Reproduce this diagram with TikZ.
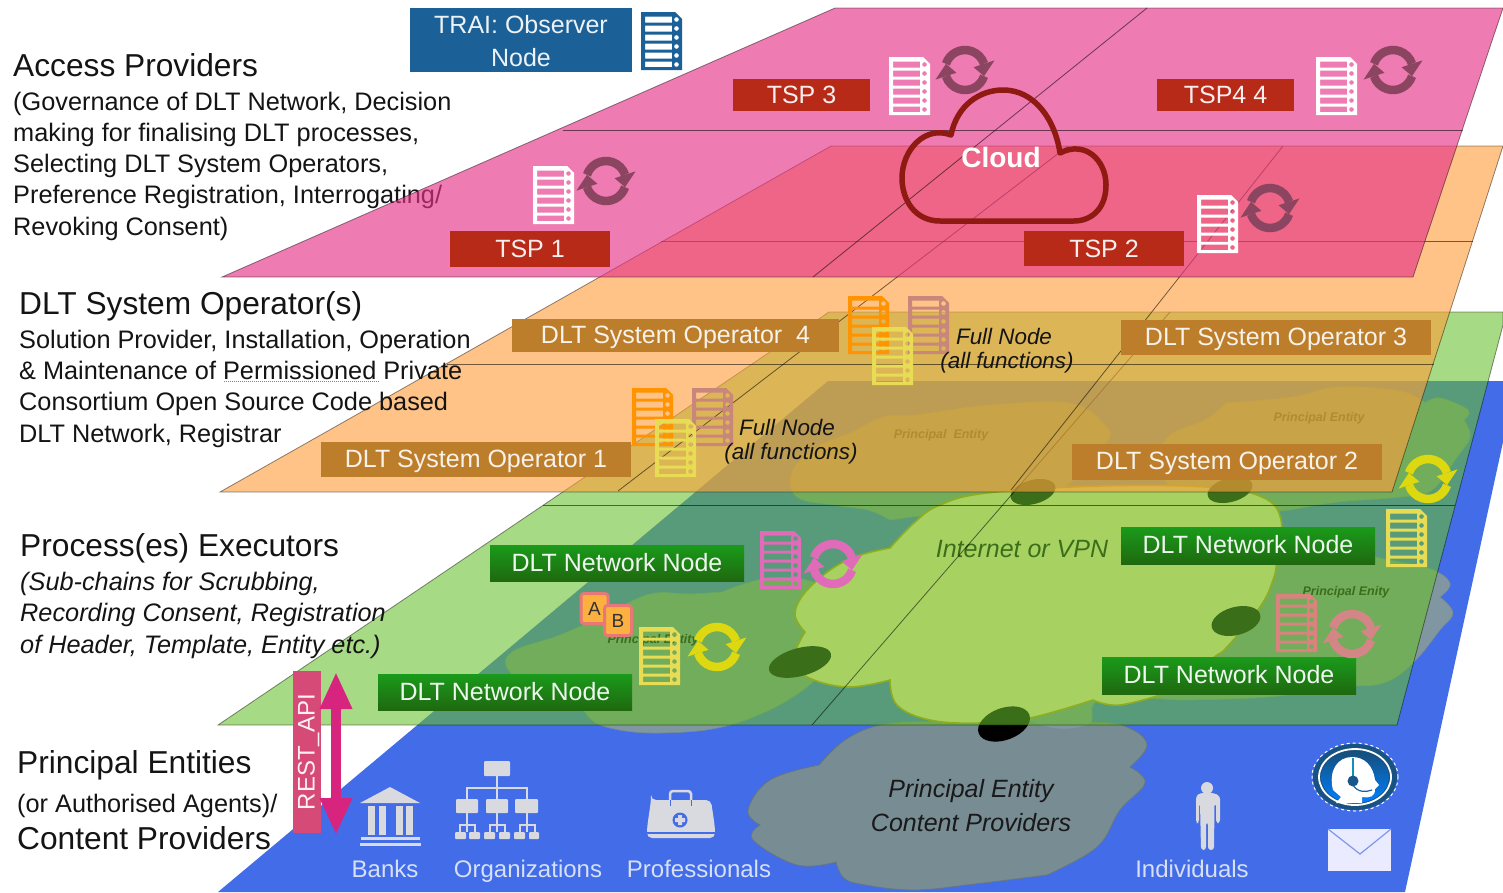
\documentclass[tikz,border=0pt]{standalone}
\usepackage{fontspec}
\setmainfont{Liberation Sans}
\usetikzlibrary{arrows.meta,calc}
\definecolor{bluep}{RGB}{66,108,232}
\definecolor{greenp}{RGB}{104,191,43}
\definecolor{orangep}{RGB}{255,158,60}
\definecolor{pinkp}{RGB}{229,50,135}
\definecolor{tspred}{RGB}{184,42,24}
\definecolor{opbrown}{RGB}{189,126,43}
\definecolor{traiblue}{RGB}{27,97,152}
\definecolor{grcloud}{RGB}{120,140,148}
\definecolor{grcloudb}{RGB}{128,150,160}
\definecolor{creamc}{RGB}{255,236,175}
\definecolor{goldc}{RGB}{196,150,15}
\definecolor{icong}{RGB}{217,218,224}
\definecolor{labelw}{RGB}{214,224,246}
\definecolor{mauve}{RGB}{140,69,96}
\definecolor{cyyellow}{RGB}{221,216,16}
\definecolor{cypink}{RGB}{224,107,184}
\definecolor{cysalmon}{RGB}{212,133,133}
\definecolor{docorange}{RGB}{255,147,0}
\definecolor{docbrown}{RGB}{201,135,124}
\definecolor{docyellow}{RGB}{232,220,85}
\definecolor{docsalmon}{RGB}{218,130,125}
\definecolor{cloudred}{RGB}{142,26,18}
\definecolor{restred}{RGB}{214,74,120}
\definecolor{restmag}{RGB}{214,36,127}
\definecolor{nodetop}{RGB}{26,154,26}
\definecolor{nodebot}{RGB}{31,104,15}
\definecolor{abfill}{RGB}{251,176,64}
\definecolor{abedge}{RGB}{232,120,120}
\newcommand\fs[1]{\fontsize{#1}{#1}\selectfont}
% document icon: x y colour
\newcommand\docicon[3]{%
 \fill[#3,even odd rule,shift={(#1,#2)}]
  (0,0) -- (34,0) -- (41,7) -- (41,58) -- (0,58) -- cycle
  (4,4.5) rectangle (31,10.5) (4,13.5) rectangle (31,19.5) (4,22.5) rectangle (31,28.5)
  (4,31.5) rectangle (31,37.5) (4,40.5) rectangle (31,46.5) (4,49.5) rectangle (31,55)
  (35.5,7.5) circle (2.4pt) (35.5,16.5) circle (2.4pt) (35.5,25.5) circle (2.4pt)
  (35.5,34.5) circle (2.4pt) (35.5,43.5) circle (2.4pt) (35.5,52.5) circle (2.4pt);}
% cycle icon: x y colour
\newcommand\cycleicon[3]{%
 \foreach \r in {0,180}{%
  \draw[#3,line width=8.5pt] (#1,#2) ++(162+\r:20pt) arc[start angle=162+\r,end angle=18+\r,radius=20pt];
  \fill[#3] (#1,#2) ++(18+\r:9pt) -- ++(18+\r:22pt) -- ($(#1,#2)+(-18+\r:20pt)$) -- cycle;}}
\tikzset{
 x=1pt,y=-1pt,
 title/.style={anchor=base west,inner sep=0pt,font=\fs{31.7},text=black!92},
 body/.style={anchor=base west,inner sep=0pt,font=\fs{25.3},text=black!92},
 bodyi/.style={anchor=base west,inner sep=0pt,font=\fs{25.3}\itshape,text=black!92},
 tsp/.style={fill=tspred,text=white!92!tspred,inner sep=0pt,font=\fs{25},text height=17pt,text depth=0pt},
 dltop/.style={fill=opbrown,text=white!90!opbrown,inner sep=0pt,font=\fs{25},text height=16pt,text depth=0pt},
 netnode/.style={top color=nodetop,bottom color=nodebot,text=white!92!nodetop,inner sep=0pt,
   font=\fs{25},minimum width=254pt,minimum height=36.5pt,text height=15pt,text depth=0pt},
 plane/.style={draw=black,draw opacity=.45,line width=.8pt},
 gridl/.style={draw=black,draw opacity=.55,line width=.8pt},
 grayc/.style={fill=grcloud,draw=grcloud!85!black,line width=.8pt},
 graycb/.style={fill=grcloudb,draw=grcloudb!92!black,line width=.6pt},
 smalltag/.style={font=\fs{12.5}\bfseries\itshape,text=black,inner sep=0pt},
 ctxt/.style={font=\fs{25}\itshape,text=black!90,inner sep=0pt},
 ftxt/.style={font=\fs{22.4}\itshape,text=black!92,inner sep=0pt},
 iconlbl/.style={anchor=base,font=\fs{24},text=labelw,inner sep=0pt},
 abbox/.style={fill=abfill,draw=abedge,line width=3pt,rounded corners=3pt,
   font=\fs{19},text=black!80,inner sep=0pt,minimum width=27pt,minimum height=30pt},
}
\begin{document}
\begin{tikzpicture}
\useasboundingbox (0,0) rectangle (1503,892);
\clip (0,0) rectangle (1503,892);
\fill[white] (0,0) rectangle (1503,892);
% ----- access providers text lies beneath the pink plane
\node[title] (t1) at (13,76) {Access Providers};
\node[body] (t1a) at (13,110) {(Governance of DLT Network, Decision};
\node[body] (t1b) at (13,141) {making for finalising DLT processes,};
\node[body] (t1c) at (13,172) {Selecting DLT System Operators,};
\node[body] (t1d) at (13,203) {Preference Registration, Interrogating/};
\node[body] (t1e) at (13,235) {Revoking Consent)};
\node[title] (t4) at (17,773) {Principal Entities};
\node[body] (t4a) at (17,812) {(or Authorised Agents)/};
\node[title] (t4b) at (17,849) {Content Providers};
% ----- blue plane
\fill[bluep] (218,892) -- (828,381) -- (1503,381) -- (1503,442) -- (1405,892) -- cycle;
% ----- grey clouds on the blue plane
% bottom cloud
\path[grayc] plot[smooth,tension=.65] coordinates {(819,765) (845,740) (880,725) (930,721) (1000,722) (1090,722) (1127,727) (1147,745) (1130,767)}
  -- plot[smooth,tension=.65] coordinates {(1130,767) (1145,783) (1120,810) (1097,847) (1047,875)}
  -- plot[smooth,tension=.65] coordinates {(1047,875) (975,884) (913,890) (860,884) (843,877) (836,862)}
  -- plot[smooth,tension=.65] coordinates {(836,862) (797,865) (753,840) (760,825)}
  -- plot[smooth,tension=.65] coordinates {(760,825) (748,810) (770,780) (819,765)} -- cycle;
% left-middle cloud
\path[graycb] plot[smooth,tension=.65] coordinates {(612,612) (560,635) (512,652) (510,672) (545,695) (582,705)}
  -- plot[smooth,tension=.65] coordinates {(582,705) (600,725) (660,733) (740,722) (815,680) (850,620) (820,585) (770,578) (722,592)}
  -- plot[smooth,tension=.65] coordinates {(722,592) (690,594) (650,594) (612,612)} -- cycle;
% upper-left cloud
\path[graycb] plot[smooth,tension=.65] coordinates {(950,410) (915,415) (883,417) (850,433) (817,447) (792,472) (797,497) (833,505) (868,510) (890,520)}
  -- plot[smooth,tension=.65] coordinates {(890,520) (930,515) (1000,510) (1060,490) (1105,445) (1105,425) (1069,403) (993,405) (950,410)} -- cycle;
% upper-right cloud
\path[graycb] plot[smooth,tension=.65] coordinates {(1226,403) (1205,420) (1168,437) (1160,470) (1200,510) (1290,510)}
  -- plot[smooth,tension=.65] coordinates {(1290,510) (1338,502) (1400,497) (1432,490) (1457,457) (1470,437) (1464,420)}
  -- plot[smooth,tension=.65] coordinates {(1464,420) (1468,410) (1440,398) (1425,403)}
  -- plot[smooth,tension=.65] coordinates {(1425,403) (1400,391) (1338,387) (1293,397) (1226,403)} -- cycle;
% lower-right cloud
\path[graycb] plot[smooth,tension=.65] coordinates {(1278,530) (1376,557) (1428,568) (1450,583) (1440,597)}
  -- plot[smooth,tension=.65] coordinates {(1440,597) (1453,613) (1440,630) (1413,663) (1383,683) (1340,687) (1267,697) (1180,700)}
  -- plot[smooth,tension=.65] coordinates {(1180,700) (1100,700) (1088,725) (1040,725) (1000,690) (1100,600) (1278,530)} -- cycle;
% small labels on the clouds
\node[smalltag] (pe1) at (941,435) {Principal\ \ Entity};
\node[smalltag] (pe2) at (1319,418) {Principal Entity};
\node[smalltag] (pe3) at (1346,592) {Principal Enity};
\node[smalltag] (pe4) at (653,640) {Principal Entity};
% cream (internet) cloud
\path[fill=creamc,draw=goldc,line width=1.6pt] plot[smooth,tension=.65] coordinates {(890,548) (915,522) (940,505) (987,493) (1100,486) (1207,487) (1262,497) (1281,520) (1277,560) (1273,580) (1260,607) (1227,647) (1213,658) (1170,692)}
  -- plot[smooth,tension=.65] coordinates {(1170,692) (1120,705) (1093,700)}
  -- plot[smooth,tension=.65] coordinates {(1093,700) (1030,718) (980,723) (930,720) (897,705) (890,680)}
  -- plot[smooth,tension=.65] coordinates {(890,680) (847,687) (807,677) (793,660) (805,632)}
  -- plot[smooth,tension=.65] coordinates {(805,632) (795,613) (810,587) (847,560) (890,548)} -- cycle;
% black ovals (links)
\foreach \px/\py/\rx/\ry/\rot in {800/662/32/14/15,1033/492/23/12/15,1230/490/23/12/15,1236/621/25/14/15,1004/724/27/16/20}{
 \fill[black,shift={(\px,\py)},rotate=\rot] (0,0) ellipse (\rx pt and \ry pt);}
\node[font=\fs{25}\itshape,text=black,inner sep=0pt] (inet) at (1022,549) {Internet or VPN};
% bottom cloud text
\node[ctxt] (bc1) at (971,791) {Principal Entity};
\node[ctxt] (bc2) at (971,823) {Content Providers};
% ----- blue plane icons
% bank
\fill[icong] (390,787) -- (420,803) -- (360,803) -- cycle;
\foreach \cx in {368,379,396,406}{\fill[icong] (\cx,806) rectangle (\cx+7,835);}
\fill[icong] (361,837) rectangle (420,840);
\fill[icong] (360,843) rectangle (421,846);
% organization chart
\foreach \ax/\ay/\bx/\by in {484/761/510/776,456/799/478/813,486/799/508/813,515/799/538/813,455/832/466/839,469/832/480/839,484/832/495/839,499/832/510/839,514/832/525/839,529/832/539/839}{
 \fill[icong,rounded corners=1pt] (\ax,\ay) rectangle (\bx,\by);}
\draw[icong,line width=1.6pt] (497,776) -- (497,799) (467,799) -- (467,788) -- (527,788) -- (527,799)
 (497,813) -- (497,832) (467,813) -- (467,832) (527,813) -- (527,832)
 (460,832) -- (460,825) -- (475,825) -- (475,832) (490,832) -- (490,825) -- (505,825) -- (505,832)
 (520,832) -- (520,825) -- (535,825) -- (535,832);
% medical bag
\draw[icong,line width=2.5pt,rounded corners=3pt] (670,800) -- (670,791) -- (691,791) -- (691,800);
\fill[icong,rounded corners=5pt] (651,800) -- (711,800) .. controls (713,815) and (715,825) .. (715,838) -- (647,838) .. controls (647,825) and (649,815) .. (651,800) -- cycle;
\fill[bluep] (647,832) rectangle (715,834);
\draw[bluep,line width=1pt] (670,800) -- (670,806) (691,800) -- (691,806);
\fill[bluep] (680,820) circle (7.5pt);
\fill[icong] (678,815) rectangle (682,825) (675,818) rectangle (685,822);
% person
\fill[icong] (1207,788) circle (6pt);
\fill[icong,rounded corners=3pt] (1196,823) -- (1196,796) -- (1200,793) -- (1214,793) -- (1220,796) -- (1220,823) -- (1216,823) -- (1216,803) -- (1214.5,803) -- (1214,850) -- (1208,850) -- (1208,822) -- (1206,822) -- (1206,850) -- (1201,850) -- (1200,803) -- (1199,803) -- (1199,823) -- cycle;
% headset badge
\draw[white,dashed,line width=1pt] (1355,777) ellipse (43pt and 34pt);
\fill[traiblue!85!black] (1355,777) ellipse (42pt and 33pt);
\draw[white,line width=1.8pt] (1355,777) ellipse (36pt and 28pt);
\shade[top color=traiblue!80!black,bottom color=blue!50!cyan] (1355,777) ellipse (34pt and 26pt);
\fill[white] (1333,790) .. controls (1328,770) and (1338,757) .. (1352,757) .. controls (1364,757) and (1373,765) .. (1375,780) -- (1379,785) -- (1375,789) .. controls (1375,797) and (1370,798) .. (1362,797) -- (1362,803) -- (1370,803) .. controls (1360,803) and (1345,803) .. (1336,803) -- (1341,797) -- cycle;
\draw[traiblue!70!cyan,line width=2pt] (1353,758) -- (1353,778);
\fill[traiblue!90!black] (1353,781) circle (5.5pt);
\draw[traiblue,line width=1.2pt] (1353,785) .. controls (1358,793) and (1366,792) .. (1372,790);
% envelope
\fill[white!92!blue] (1328,829) rectangle (1391,871);
\draw[bluep!70!white,line width=1.2pt] (1328,829) -- (1360,854) -- (1391,829);
% labels
\node[iconlbl] (banks) at (385,877) {Banks};
\node[iconlbl] (orgs) at (528,877) {Organizations};
\node[iconlbl] (prof) at (699,877) {Professionals};
\node[iconlbl] (indiv) at (1192,877) {Individuals};
% ----- green plane
\path[plane,fill=greenp,fill opacity=.577] (218,725) -- (829,312) -- (1503,312) -- (1503,325) -- (1397,725) -- cycle;
\draw[gridl] (543,505) -- (1455,505);
\draw[gridl] (812,725) -- (1170,312);
% process executors text above the green plane
\node[title] (t3) at (20,556) {Process(es) Executors};
\node[bodyi] (t3a) at (20,590) {(Sub-chains for Scrubbing,};
\node[bodyi] (t3b) at (20,621) {Recording Consent, Registration};
\node[bodyi] (t3c) at (20,653) {of Header, Template, Entity etc.)};
% green plane items
\node[netnode] (dn1) at (617,563.5) {DLT Network Node};
\node[netnode] (dn2) at (505,692.5) {DLT Network Node};
\node[netnode] (dn3) at (1248,546) {DLT Network Node};
\node[netnode] (dn4) at (1229,676) {DLT Network Node};
\docicon{760}{531}{cypink}
\cycleicon{833}{564}{cypink}
\node[abbox] (ba) at (594.5,608.5) {A};
\node[abbox] (bb) at (618,620.5) {B};
\docicon{639}{627}{docyellow}
\cycleicon{717}{647}{cyyellow}
\docicon{1386}{509}{docyellow}
\docicon{1276}{594}{docsalmon}
\cycleicon{1352}{634}{cysalmon}
% ----- orange plane
\path[plane,fill=orangep,fill opacity=.61] (220,492) -- (831,146) -- (1503,146) -- (1392,492) -- cycle;
\draw[gridl] (447,364) -- (1434,364);
\draw[gridl] (661,241) -- (1473,241);
\draw[gridl] (618,491) -- (1068,146);
\draw[gridl] (1011,490) -- (1283,146);
% operator text above the orange plane
\node[title] (t2) at (19,314) {DLT System Operator(s)};
\node[body] (t2a) at (19,348) {Solution Provider, Installation, Operation};
\node[body] (t2b) at (19,379) {\& Maintenance of Permissioned Private};
\node[body] (t2c) at (19,410) {Consortium Open Source Code based};
\node[body] (t2d) at (19,442) {DLT Network, Registrar};
\draw[red!70!white,line width=1pt,densely dotted] (224,381) -- (379,381);
% orange plane items
\node[dltop,minimum width=327pt,minimum height=33pt] (op4) at (675.5,335) {DLT System Operator\ \ 4};
\node[dltop,minimum width=310pt,minimum height=35pt] (op3) at (1276,337.5) {DLT System Operator 3};
\node[dltop,minimum width=310pt,minimum height=35pt] (op1) at (476,459.5) {DLT System Operator 1};
\node[dltop,minimum width=310pt,minimum height=36pt] (op2) at (1227,461.5) {DLT System Operator 2};
\docicon{848}{296}{docorange}
\docicon{908}{296}{docbrown}
\docicon{872}{327}{docyellow}
\docicon{632}{388}{docorange}
\docicon{692}{388}{docbrown}
\docicon{655}{419}{docyellow}
\node[ftxt] (fn1) at (1004,336) {Full Node};
\node[ftxt] (fn1b) at (1007,363) {(all functions)};
\node[ftxt] (fn2) at (787,427) {Full Node};
\node[ftxt] (fn2b) at (791,454) {(all functions)};
\cycleicon{1428}{479}{cyyellow}
% ----- pink plane
\path[plane,fill=pinkp,fill opacity=.644] (222,277) -- (835,8) -- (1503,8) -- (1413,277) -- cycle;
\draw[gridl] (563,130) -- (1463,130);
\draw[gridl] (813,277) -- (1147,8);
% pink plane items
\draw[cloudred,line width=5.5pt,line join=round] (951,135) .. controls (957,105) and (980,90) .. (1003,90) .. controls (1035,90) and (1055,120) .. (1060,153) .. controls (1085,140) and (1106,160) .. (1106,185) .. controls (1106,210) and (1090,221) .. (1074,221) -- (940,221) .. controls (915,221) and (902,200) .. (902,178) .. controls (902,150) and (925,125) .. (951,135) -- cycle;
\node[font=\fs{28}\bfseries,text=white,inner sep=0pt] (cl) at (1001,157) {Cloud};
\node[tsp,minimum width=160pt,minimum height=36pt] (tsp1) at (530,249) {TSP 1};
\node[tsp,minimum width=160pt,minimum height=35pt] (tsp2) at (1104,248.5) {TSP 2};
\node[tsp,minimum width=137pt,minimum height=32pt] (tsp3) at (801.5,95) {TSP 3};
\node[tsp,minimum width=137pt,minimum height=32pt] (tsp4) at (1225.5,95) {TSP4 4};
\docicon{889}{57}{white}
\docicon{1316}{57}{white}
\docicon{533}{166}{white}
\docicon{1197}{195}{white}
\cycleicon{965}{70}{mauve}
\cycleicon{1393}{70}{mauve}
\cycleicon{606}{181}{mauve}
\cycleicon{1270}{208}{mauve}
% TRAI
\node[fill=traiblue,text=white!92!traiblue,inner sep=0pt,minimum width=222pt,minimum height=64pt,font=\fs{25},align=center] (trai) at (521,40) {\rule{0pt}{20pt}TRAI: Observer\\[8pt]Node};
\docicon{641}{12}{traiblue}
% REST API
\node[fill=restred,text=white!92!restred,inner sep=0pt,minimum width=162pt,minimum height=28pt,font=\fs{24},rotate=90,text height=15pt,text depth=0pt] (rest) at (307,752) {REST\_API};
\coordinate (ra) at (336,672);
\coordinate (rb) at (336,835);
\draw[restmag,line width=10pt,{Triangle[length=37pt,width=30pt]}-{Triangle[length=37pt,width=30pt]}] (ra) -- (rb);
\end{tikzpicture}
\end{document}
